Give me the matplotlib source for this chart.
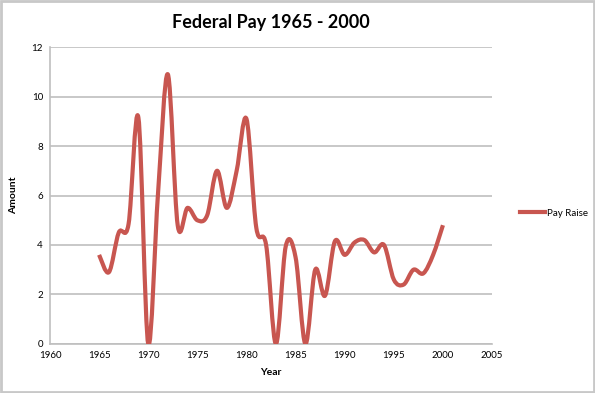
import matplotlib.pyplot as plt
import numpy as np
from matplotlib.path import Path
from matplotlib.patches import PathPatch, Rectangle
from matplotlib.lines import Line2D

years = list(range(1965, 2001))
pay_raise = [3.6, 2.9, 4.5, 4.85, 9.15, 0.0, 6.1, 10.9, 4.8, 5.5,
             5.0, 5.2, 7.0, 5.5, 7.0, 9.1, 4.7, 4.0, 0.0, 3.95,
             3.5, 0.0, 3.0, 1.95, 4.15, 3.6, 4.1, 4.2, 3.7, 4.0,
             2.6, 2.4, 3.0, 2.85, 3.6, 4.8]
x_ticks = list(range(1960, 2006, 5))
y_ticks = list(range(0, 13, 2))

line_color = '#c85650'
grid_color = '#bfbfbf'
plt.rcParams['font.family'] = ['Lato', 'DejaVu Sans']


def smooth_path(xs, ys):
    # Excel-style smoothed line: cubic Bezier through every point
    pts = np.column_stack([xs, ys]).astype(float)
    verts = [pts[0]]
    codes = [Path.MOVETO]
    n = len(pts)
    for i in range(n - 1):
        p0 = pts[i - 1] if i > 0 else pts[i]
        p1 = pts[i]
        p2 = pts[i + 1]
        p3 = pts[i + 2] if i + 2 < n else pts[i + 1]
        c1 = p1 + (p2 - p0) / 6.0
        c2 = p2 - (p3 - p1) / 6.0
        verts += [c1, c2, p2]
        codes += [Path.CURVE4] * 3
    return Path(verts, codes)


fig = plt.figure(figsize=(5.95, 3.93), dpi=100)
ax = fig.add_axes([0.084, 0.125, 0.743, 0.755])

ax.add_patch(PathPatch(smooth_path(years, pay_raise), facecolor='none',
                       edgecolor=line_color, lw=3.0, capstyle='butt',
                       joinstyle='round', zorder=3))

ax.set_xlim(1960, 2005)
ax.set_ylim(0, 12)
ax.set_xticks(x_ticks)
ax.set_yticks(y_ticks)
ax.tick_params(labelsize=7, length=0, pad=5)
ax.yaxis.grid(True, color=grid_color, lw=1.2)
ax.set_axisbelow(True)
for s in ['top', 'right']:
    ax.spines[s].set_visible(False)
for s in ['left', 'bottom']:
    ax.spines[s].set_color(grid_color)
    ax.spines[s].set_linewidth(1.2)

ax.set_title('Federal Pay 1965 - 2000', fontsize=13, fontweight='bold', pad=14)
ax.set_xlabel('Year', fontsize=7.5, fontweight='bold', labelpad=6)
ax.set_ylabel('Amount', fontsize=7.5, fontweight='bold', labelpad=10)

fig.legend(handles=[Line2D([], [], color=line_color, lw=3.0)],
           labels=['Pay Raise'], loc='center left',
           bbox_to_anchor=(0.86, 0.458), frameon=False, fontsize=7,
           handlelength=2.5, handletextpad=0.2)

fig.add_artist(Rectangle((0.002, 0.003), 0.996, 0.994, transform=fig.transFigure,
                         fill=False, edgecolor='#c8c8c8', lw=2))

plt.savefig('out.png', dpi=100)
